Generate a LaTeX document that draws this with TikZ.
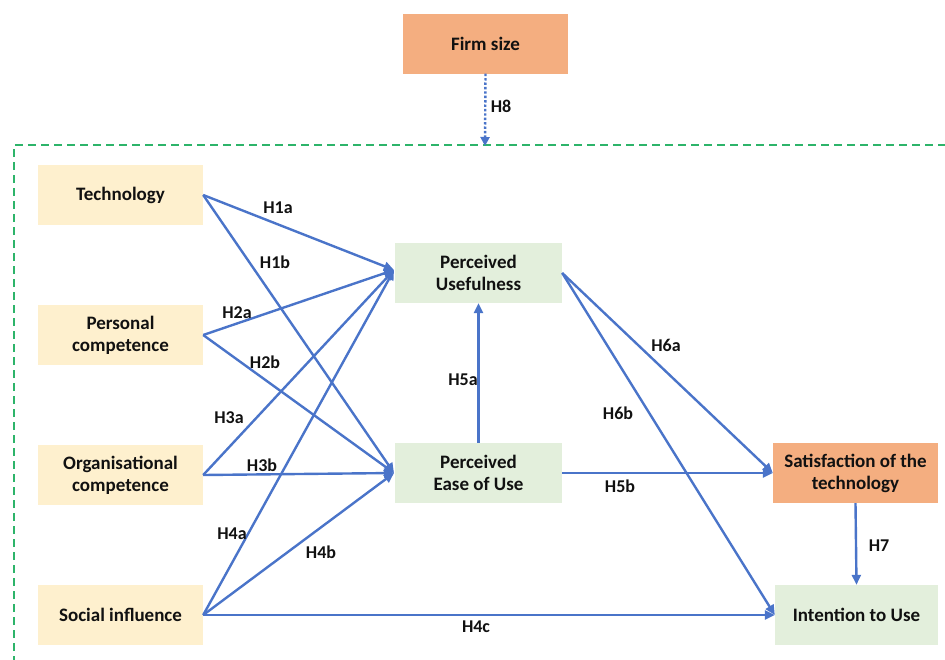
\documentclass[tikz,border=0pt]{standalone}
\usepackage{fontspec}
\setmainfont{Carlito}
\usetikzlibrary{arrows.meta}
\definecolor{cyellow}{HTML}{FEF0CE}
\definecolor{cgreen}{HTML}{E3EFDC}
\definecolor{corange}{HTML}{F4AE80}
\definecolor{cline}{HTML}{4A74C9}
\definecolor{cdash}{HTML}{2DB46A}
\definecolor{ctext}{HTML}{111111}
\tikzset{
  box/.style={minimum width=165pt,minimum height=60pt,inner sep=0pt,align=center,
    font=\fontsize{19}{22}\selectfont\bfseries,text=ctext},
  ybox/.style={box,fill=cyellow},
  gbox/.style={box,fill=cgreen,minimum width=167pt},
  obox/.style={box,fill=corange},
  link/.style={draw=cline,line width=2.4pt,-{Triangle[length=10pt,width=9pt]}},
  lab/.style={font=\fontsize{18}{20}\selectfont\bfseries,text=ctext,inner sep=0pt}
}
\begin{document}
\begin{tikzpicture}[x=1pt,y=-1pt]
\useasboundingbox (0,0) rectangle (945,659);
\clip (0,0) rectangle (945,659);
% frame
\draw[cdash,line width=2.2pt,dash pattern=on 8pt off 5pt] (14,664) -- (14,145) -- (950,145);
% nodes
\node[obox] (firm) at (485.5,43.5) {Firm size};
\node[ybox] (tech) at (120.5,195) {Technology};
\node[ybox] (pers) at (120.5,335) {Personal\\competence};
\node[ybox] (org) at (120.5,475) {Organisational\\competence};
\node[ybox] (soc) at (120.5,615) {Social influence};
\node[gbox] (pu) at (478.5,273) {Perceived\\Usefulness};
\node[gbox] (peou) at (478.5,473) {Perceived\\Ease of Use};
\node[obox] (sat) at (855.5,473) {Satisfaction of the\\technology};
\node[gbox,minimum width=163pt] (int) at (856.5,615) {Intention to Use};
\coordinate (fr) at (485,146);
\coordinate (puin) at (394,270);
\coordinate (peouin) at (394,473);
% connectors
\draw[draw=cline,line width=2.4pt,dotted,-{Triangle[length=9pt,width=9pt]}] (firm.south) -- (fr);
\node[lab] at (501,106) {H8};
\draw[link] (tech.east) -- (puin);
\draw[link] (tech.east) -- (peouin);
\draw[link] (pers.east) -- (puin);
\draw[link] (pers.east) -- (peouin);
\draw[link] (org.east) -- (puin);
\draw[link] (org.east) -- (peouin);
\draw[link] (soc.east) -- (puin);
\draw[link] (soc.east) -- (peouin);
\draw[link] (soc.east) -- (int.west);
\draw[link] (peou.north) -- (pu.south);
\draw[link] (peou.east) -- (sat.west);
\draw[link] (pu.east) -- (sat.west);
\draw[link] (pu.east) -- (int.west);
\draw[link] (sat.south) -- (int.north);
% labels
\node[lab] at (278,208) {H1a};
\node[lab] at (275,262) {H1b};
\node[lab] at (237,313) {H2a};
\node[lab] at (265,362) {H2b};
\node[lab] at (229,418) {H3a};
\node[lab] at (262,465) {H3b};
\node[lab] at (232,534) {H4a};
\node[lab] at (321,552) {H4b};
\node[lab] at (476,627) {H4c};
\node[lab] at (463,380) {H5a};
\node[lab] at (620,486) {H5b};
\node[lab] at (666,345) {H6a};
\node[lab] at (618,413) {H6b};
\node[lab] at (879,546) {H7};
\end{tikzpicture}
\end{document}
